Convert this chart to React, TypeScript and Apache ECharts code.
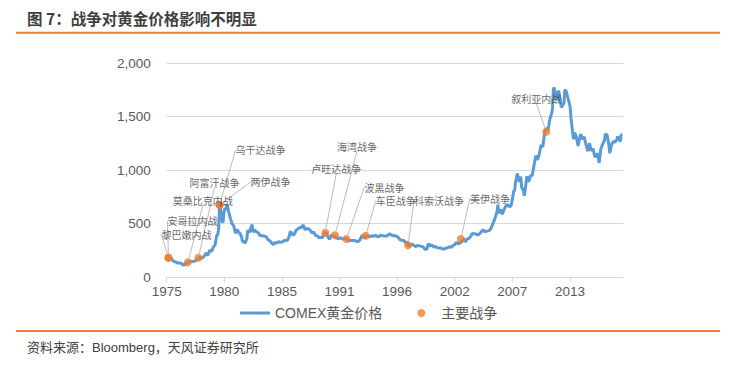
import React, { useEffect, useRef } from 'react';
import * as echarts from 'echarts';

// ---- data ----
const priceDates = [
  '1975-01','1975-03','1975-05','1975-07','1975-09','1975-11',
  '1976-01','1976-03','1976-05','1976-07','1976-08','1976-09','1976-11',
  '1977-01','1977-03','1977-05','1977-07','1977-09','1977-11',
  '1978-01','1978-03','1978-05','1978-07','1978-09','1978-10','1978-11','1978-12',
  '1979-02','1979-04','1979-06','1979-08','1979-09','1979-10','1979-11','1979-12',
  '1980-01','1980-02','1980-03','1980-04','1980-05','1980-06','1980-07','1980-08','1980-09','1980-10','1980-11','1980-12',
  '1981-01','1981-03','1981-05','1981-07','1981-09','1981-11','1981-12',
  '1982-02','1982-03','1982-05','1982-06','1982-08','1982-09','1982-11','1982-12',
  '1983-02','1983-03','1983-05','1983-07','1983-09','1983-11','1983-12',
  '1984-02','1984-04','1984-06','1984-08','1984-10','1984-12',
  '1985-02','1985-04','1985-06','1985-08','1985-10','1985-12',
  '1986-02','1986-04','1986-06','1986-08','1986-09','1986-10','1986-12',
  '1987-02','1987-04','1987-06','1987-08','1987-10','1987-12',
  '1988-02','1988-04','1988-06','1988-08','1988-10','1988-12',
  '1989-02','1989-04','1989-06','1989-08','1989-10','1989-12',
  '1990-01','1990-02','1990-04','1990-06','1990-08','1990-10','1990-12',
  '1991-02','1991-04','1991-06','1991-08','1991-10','1991-12',
  '1992-02','1992-04','1992-06','1992-08','1992-10','1992-12',
  '1993-02','1993-04','1993-06','1993-07','1993-08','1993-10','1993-12',
  '1994-02','1994-04','1994-06','1994-08','1994-10','1994-12',
  '1995-02','1995-04','1995-06','1995-08','1995-10','1995-12',
  '1996-02','1996-04','1996-06','1996-08','1996-10','1996-12',
  '1997-02','1997-04','1997-06','1997-08','1997-10','1997-12',
  '1998-02','1998-04','1998-06','1998-08','1998-10','1998-12',
  '1999-02','1999-04','1999-06','1999-08','1999-10','1999-12',
  '2000-02','2000-04','2000-06','2000-08','2000-10','2000-12',
  '2001-02','2001-04','2001-06','2001-08','2001-10','2001-12',
  '2002-02','2002-04','2002-06','2002-08','2002-10','2002-12',
  '2003-02','2003-04','2003-06','2003-08','2003-10','2003-12',
  '2004-02','2004-04','2004-06','2004-08','2004-10','2004-12',
  '2005-02','2005-04','2005-06','2005-08','2005-10','2005-12',
  '2006-02','2006-04','2006-05','2006-06','2006-08','2006-10','2006-12',
  '2007-02','2007-04','2007-06','2007-08','2007-10','2007-11','2007-12',
  '2008-01','2008-02','2008-03','2008-05','2008-07','2008-08','2008-10','2008-11','2008-12',
  '2009-02','2009-04','2009-06','2009-08','2009-10','2009-12',
  '2010-02','2010-04','2010-06','2010-08','2010-10','2010-12',
  '2011-02','2011-04','2011-06','2011-07','2011-08','2011-09','2011-10','2011-11','2011-12',
  '2012-02','2012-04','2012-05','2012-06','2012-08','2012-09','2012-10','2012-11','2012-12',
  '2013-02','2013-03','2013-04','2013-05','2013-06','2013-07','2013-08','2013-10','2013-12',
  '2014-02','2014-03','2014-05','2014-07','2014-09','2014-11','2014-12',
  '2015-01','2015-03','2015-05','2015-07','2015-09','2015-10','2015-12',
  '2016-02','2016-04','2016-06','2016-07','2016-09','2016-11','2016-12',
  '2017-02','2017-04','2017-06','2017-08','2017-09','2017-11','2017-12',
  '2018-01','2018-02',
];
const priceValues = [
  176,178,167,165,144,142,
  132,132,128,118,110,114,130,
  133,148,147,144,149,162,
  173,184,176,188,212,227,206,208,
  251,238,279,301,355,392,392,456,
  675,665,554,517,514,600,645,627,674,662,624,590,
  557,500,480,409,444,414,410,
  374,330,333,315,357,438,416,447,
  490,420,438,422,413,382,388,
  385,381,377,348,340,320,
  300,325,317,330,325,326,
  339,340,343,376,418,423,391,
  401,438,450,461,465,486,
  442,452,452,435,412,420,
  388,384,367,371,368,409,
  410,417,375,352,395,380,378,
  364,357,368,356,358,361,
  354,338,341,340,344,335,
  330,342,372,392,379,367,383,
  381,377,386,381,389,379,
  377,391,387,383,383,387,
  405,393,385,387,381,369,
  347,344,341,324,325,289,
  297,308,292,284,296,291,
  287,282,261,256,311,290,
  300,280,285,275,270,272,
  262,261,270,273,283,276,
  295,302,324,310,317,333,
  359,328,356,360,379,407,
  405,403,392,401,420,442,
  424,428,431,438,470,510,
  555,610,676,596,633,586,629,
  665,679,656,665,754,806,803,
  889,922,968,889,939,839,807,760,816,
  943,890,946,950,1043,1134,
  1095,1149,1233,1215,1342,1391,
  1374,1474,1529,1573,1756,1772,1665,1739,1652,
  1742,1650,1585,1596,1626,1744,1747,1721,1688,
  1627,1593,1487,1414,1343,1286,1348,1316,1225,
  1300,1336,1288,1311,1239,1176,1202,
  1251,1179,1199,1128,1125,1159,1068,
  1200,1243,1276,1337,1326,1238,1157,
  1234,1267,1260,1283,1314,1282,1265,
  1331,1330,
];

const warNames = [
  '黎巴嫩内战','安哥拉内战','莫桑比克内战','阿富汗战争','乌干达战争','两伊战争',
  '卢旺达战争','海湾战争','波黑战争','车臣战争','科索沃战争','美伊战争','叙利亚内战',
];
const warDates = [
  '1975-03','1975-03','1977-01','1978-01','1980-01','1980-01',
  '1990-01','1990-12','1992-01','1993-11','1997-11','2002-11','2010-12',
];
const warPrices = [180,180,137,180,673,673,414,390,355,386,296,355,1358];

const xTickLabels = ['1975','1980','1985','1991','1996','2002','2007','2013'];
const yMin = 0;
const yMax = 2000;
const yStep = 500;

// label placement (pixel offsets from each dot)
const labelOffsets: [number, number][] = [
  [18, -23], [24, -37], [15, -62], [16, -75], [41, -55], [51, -23],
  [11, -64], [22, -89], [38, -52], [30, -35], [31, -45], [29, -41], [-10, -33],
];

const START_YEAR = 1975;
const TICK_STEP = 5.45;
const X_MAX = 43.2;

function toOffset(d: string): number {
  const [y, m] = d.split('-').map(Number);
  return y - START_YEAR + (m - 1) / 12;
}

const FONT = "'Liberation Sans', 'Noto Sans CJK SC', sans-serif";
const CJK = "'Noto Sans CJK SC', sans-serif";

export default function App() {
  const ref = useRef<HTMLDivElement>(null);
  useEffect(() => {
    document.body.style.margin = '0';
    if (!ref.current) return;
    const chart = echarts.init(ref.current, undefined, { renderer: 'svg' });
    const lineData = priceDates.map((d, i) => [toOffset(d), priceValues[i]]);
    const warData = warNames.map((n, i) => ({ name: n, value: [toOffset(warDates[i]), warPrices[i]] }));
    chart.setOption({
      animation: false,
      backgroundColor: '#ffffff',
      grid: { left: 166.7, right: 112.7, top: 63, bottom: 88 },
      legend: {
        left: 235,
        top: 301,
        itemWidth: 30,
        itemHeight: 8,
        itemGap: 35,
        textStyle: { fontSize: 14, color: '#595959', fontFamily: FONT },
        data: [
          { name: 'COMEX黄金价格', icon: 'path://M0,0H30V3H0Z' },
          { name: '主要战争', icon: 'circle' },
        ],
      },
      xAxis: {
        type: 'value',
        min: 0,
        max: X_MAX,
        interval: TICK_STEP,
        splitLine: { show: false },
        axisLine: { show: true, lineStyle: { color: '#d9d9d9', width: 1 } },
        axisTick: { show: true, length: 5, lineStyle: { color: '#d9d9d9' } },
        axisLabel: {
          color: '#595959',
          fontSize: 13.5,
          fontFamily: FONT,
          margin: 8,
          showMaxLabel: false,
          formatter: (v: number) => {
            const i = Math.round(v / TICK_STEP);
            if (Math.abs(v - i * TICK_STEP) > 1e-6) return '';
            return xTickLabels[i] ?? '';
          },
        },
      },
      yAxis: {
        type: 'value',
        min: yMin,
        max: yMax,
        interval: yStep,
        axisLine: { show: false },
        axisTick: { show: false },
        splitLine: { lineStyle: { color: '#d9d9d9', width: 1 } },
        axisLabel: {
          color: '#595959',
          fontSize: 13.5,
          fontFamily: FONT,
          margin: 16,
          formatter: (v: number) => v.toLocaleString('en-US'),
        },
      },
      series: [
        {
          name: 'COMEX黄金价格',
          type: 'line',
          data: lineData,
          showSymbol: false,
          symbol: 'none',
          lineStyle: { color: '#5B9BD5', width: 3 },
          itemStyle: { color: '#5B9BD5' },
          z: 2,
        },
        {
          name: '主要战争',
          type: 'scatter',
          data: warData,
          symbol: 'circle',
          symbolSize: 8,
          itemStyle: { color: '#ED7D31' },
          z: 3,
          label: {
            show: true,
            position: 'inside',
            formatter: '{b}',
            fontSize: 10,
            color: '#404040',
            fontFamily: CJK,
          },
          labelLine: { show: true, lineStyle: { color: '#a6a6a6', width: 0.75 } },
          labelLayout: (p: any) => ({ dx: labelOffsets[p.dataIndex][0], dy: labelOffsets[p.dataIndex][1] }),
        },
      ],
      graphic: [
        {
          type: 'text',
          x: 27,
          y: 17.5,
          style: {
            text: '图 7：战争对黄金价格影响不明显',
            fontSize: 15.5,
            fontWeight: 'bold',
            fontFamily: CJK,
            fill: '#3f3f3f',
            verticalAlign: 'middle',
            align: 'left',
          },
        },
        { type: 'line', shape: { x1: 16, y1: 32.7, x2: 720, y2: 32.7 }, style: { stroke: '#ED7D31', lineWidth: 2 } },
        { type: 'line', shape: { x1: 16, y1: 331, x2: 720, y2: 331 }, style: { stroke: '#ED7D31', lineWidth: 2 } },
        {
          type: 'text',
          x: 27,
          y: 347,
          style: {
            text: '资料来源：Bloomberg，天风证券研究所',
            fontSize: 13,
            fontFamily: FONT,
            fill: '#404040',
            verticalAlign: 'middle',
            align: 'left',
          },
        },
      ],
    });
    return () => chart.dispose();
  }, []);
  return <div ref={ref} style={{ width: 736, height: 365 }} />;
}
